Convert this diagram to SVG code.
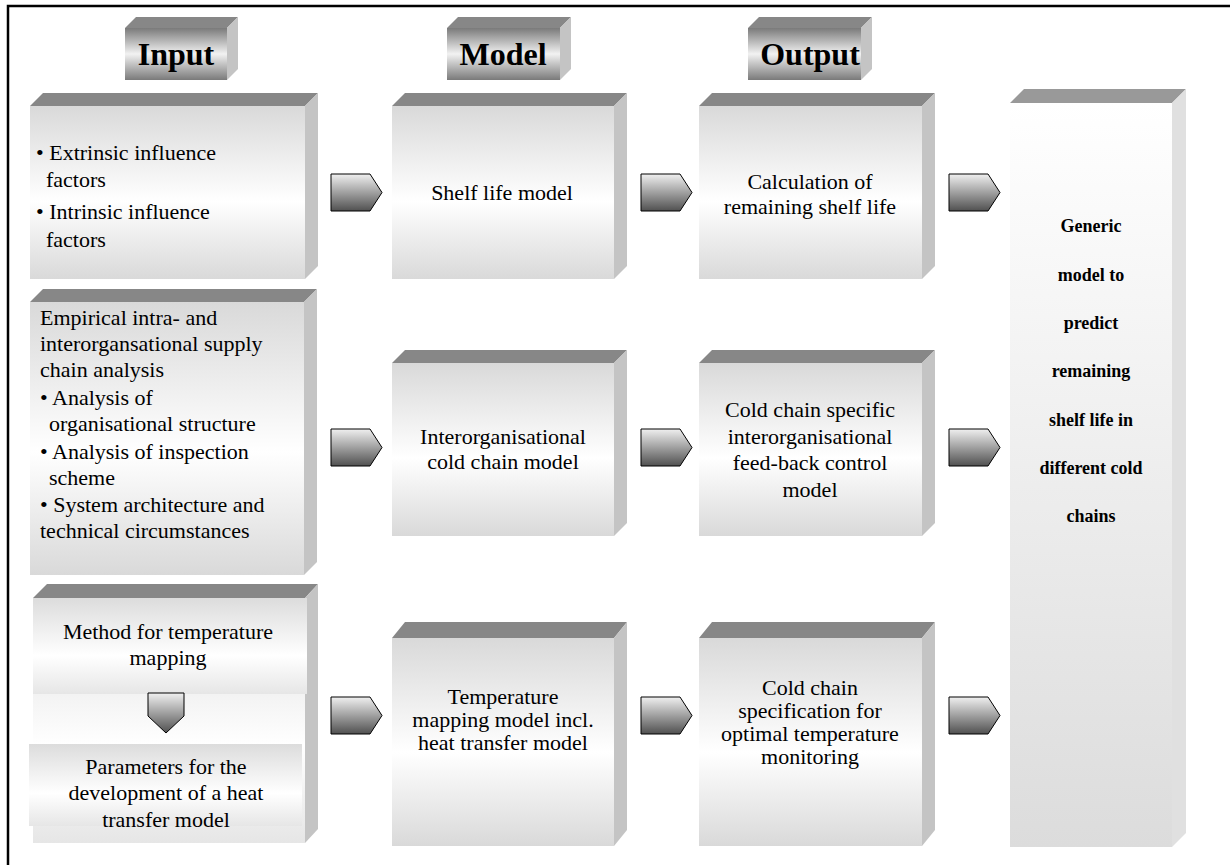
<svg xmlns="http://www.w3.org/2000/svg" width="1230" height="865" viewBox="0 0 1230 865">
<defs>
<linearGradient id="gBox" x1="0" y1="0" x2="0" y2="1">
<stop offset="0" stop-color="#d9d9d9"/><stop offset="0.55" stop-color="#ffffff"/><stop offset="1" stop-color="#d9d9d9"/>
</linearGradient>
<linearGradient id="gHdr" x1="0" y1="0" x2="0" y2="1">
<stop offset="0" stop-color="#7a7a7a"/><stop offset="0.5" stop-color="#f2f2f2"/><stop offset="1" stop-color="#7a7a7a"/>
</linearGradient>
<linearGradient id="gArr" x1="0" y1="0" x2="0" y2="1">
<stop offset="0" stop-color="#f0f0f0"/><stop offset="1" stop-color="#505050"/>
</linearGradient>
<linearGradient id="gBig" x1="0" y1="0" x2="0" y2="1">
<stop offset="0" stop-color="#ffffff"/><stop offset="1" stop-color="#dcdcdc"/>
</linearGradient>
<linearGradient id="gSub" x1="0" y1="0" x2="0" y2="1">
<stop offset="0" stop-color="#dcdcdc"/><stop offset="0.6" stop-color="#ffffff"/><stop offset="1" stop-color="#e6e6e6"/>
</linearGradient>
</defs>
<style>
.front{fill:url(#gBox)}
.top{fill:#878787}
.side{fill:#c4c4c4}
.hfront{fill:url(#gHdr)}
.arr{fill:url(#gArr);stroke:#000;stroke-width:1}
.t{font-family:"Liberation Serif","Times New Roman",serif;font-size:22px;fill:#000}
.c{text-anchor:middle}
.h{font-family:"Liberation Serif","Times New Roman",serif;font-size:32px;font-weight:bold;text-anchor:middle;fill:#000}
.b{font-family:"Liberation Serif","Times New Roman",serif;font-size:18px;font-weight:bold;text-anchor:middle;fill:#000}
</style>
<rect width="1230" height="865" fill="#fff"/>
<path d="M8,865 L8,6 L1230,6" fill="none" stroke="#000" stroke-width="2.5"/>

<g id="hdr-input">
<path class="top" d="M125,28 L136,17 L238,17 L227,28Z"/>
<path class="side" d="M227,28 L238,17 L238,69 L227,80Z"/>
<rect class="hfront" x="125" y="28" width="102" height="52"/>
<text class="h" x="176" y="65">Input</text>
</g>
<g id="hdr-model">
<path class="top" d="M447,28 L458,17 L571,17 L560,28Z"/>
<path class="side" d="M560,28 L571,17 L571,69 L560,80Z"/>
<rect class="hfront" x="447" y="28" width="113" height="52"/>
<text class="h" x="503" y="65">Model</text>
</g>
<g id="hdr-output">
<path class="top" d="M748,28 L759,17 L872,17 L861,28Z"/>
<path class="side" d="M861,28 L872,17 L872,69 L861,80Z"/>
<rect class="hfront" x="748" y="28" width="113" height="52"/>
<text class="h" x="810" y="65">Output</text>
</g>

<g id="in1">
<path class="top" d="M30,106 L43,93 L318,93 L305,106Z"/>
<path class="side" d="M305,106 L318,93 L318,266 L305,279Z"/>
<rect class="front" x="30" y="106" width="275" height="173"/>
<text class="t" x="36" y="160">• Extrinsic influence</text>
<text class="t" x="46" y="187">factors</text>
<text class="t" x="36" y="219">• Intrinsic influence</text>
<text class="t" x="46" y="247">factors</text>
</g>
<g id="m1">
<path class="top" d="M392,106 L405,93 L627,93 L614,106Z"/>
<path class="side" d="M614,106 L627,93 L627,266 L614,279Z"/>
<rect class="front" x="392" y="106" width="222" height="173"/>
<text class="t c" x="502" y="200">Shelf life model</text>
</g>
<g id="o1">
<path class="top" d="M699,106 L712,93 L935,93 L922,106Z"/>
<path class="side" d="M922,106 L935,93 L935,266 L922,279Z"/>
<rect class="front" x="699" y="106" width="223" height="173"/>
<text class="t c" x="810" y="189">Calculation of</text>
<text class="t c" x="810" y="214">remaining shelf life</text>
</g>

<g id="in2">
<path class="top" d="M30,302 L43,289 L317,289 L304,302Z"/>
<path class="side" d="M304,302 L317,289 L317,562 L304,575Z"/>
<rect class="front" x="30" y="302" width="274" height="273"/>
<text class="t" x="40" y="325">Empirical intra- and</text>
<text class="t" x="40" y="351">interorgansational supply</text>
<text class="t" x="40" y="377">chain analysis</text>
<text class="t" x="40" y="405">• Analysis of</text>
<text class="t" x="49" y="431">organisational structure</text>
<text class="t" x="40" y="459">• Analysis of inspection</text>
<text class="t" x="49" y="485">scheme</text>
<text class="t" x="40" y="512">• System architecture and</text>
<text class="t" x="40" y="538">technical circumstances</text>
</g>
<g id="m2">
<path class="top" d="M392,363 L405,350 L627,350 L614,363Z"/>
<path class="side" d="M614,363 L627,350 L627,523 L614,536Z"/>
<rect class="front" x="392" y="363" width="222" height="173"/>
<text class="t c" x="503" y="444">Interorganisational</text>
<text class="t c" x="503" y="469">cold chain model</text>
</g>
<g id="o2">
<path class="top" d="M699,363 L712,350 L935,350 L922,363Z"/>
<path class="side" d="M922,363 L935,350 L935,523 L922,536Z"/>
<rect class="front" x="699" y="363" width="223" height="173"/>
<text class="t c" x="810" y="417">Cold chain specific</text>
<text class="t c" x="810" y="444">interorganisational</text>
<text class="t c" x="810" y="470">feed-back control</text>
<text class="t c" x="810" y="497">model</text>
</g>

<g id="in3">
<path class="top" d="M33,598 L47,584 L318,584 L305,598Z" fill="#999"/>
<path class="side" d="M305,598 L318,584 L318,829 L305,843Z"/>
<rect x="33" y="598" width="272" height="245" fill="url(#gSub)"/>
<rect x="33" y="598" width="274" height="96" fill="url(#gSub)"/>
<rect x="29" y="744" width="273" height="82" fill="url(#gSub)"/>
<path class="arr" d="M148,693 L184,693 L184,716 L166,733 L148,716Z"/>
<text class="t c" x="168" y="639">Method for temperature</text>
<text class="t c" x="168" y="665">mapping</text>
<text class="t c" x="166" y="774">Parameters for the</text>
<text class="t c" x="166" y="800">development of a heat</text>
<text class="t c" x="166" y="827">transfer model</text>
</g>
<g id="m3">
<path class="top" d="M392,638 L405,622 L627,622 L614,638Z"/>
<path class="side" d="M614,638 L627,622 L627,830 L614,846Z"/>
<rect class="front" x="392" y="638" width="222" height="208"/>
<text class="t c" x="503" y="704">Temperature</text>
<text class="t c" x="503" y="727">mapping model incl.</text>
<text class="t c" x="503" y="750">heat transfer model</text>
</g>
<g id="o3">
<path class="top" d="M699,638 L712,622 L935,622 L922,638Z"/>
<path class="side" d="M922,638 L935,622 L935,830 L922,846Z"/>
<rect class="front" x="699" y="638" width="223" height="208"/>
<text class="t c" x="810" y="695">Cold chain</text>
<text class="t c" x="810" y="718">specification for</text>
<text class="t c" x="810" y="741">optimal temperature</text>
<text class="t c" x="810" y="764">monitoring</text>
</g>

<g id="big">
<path d="M1010,103 L1024,89 L1186,89 L1172,103Z" fill="#999"/>
<path d="M1172,103 L1186,89 L1186,833 L1172,847Z" fill="#e0e0e0"/>
<rect x="1010" y="103" width="162" height="744" fill="url(#gBig)"/>
<text class="b" x="1091" y="232">Generic</text>
<text class="b" x="1091" y="281">model to</text>
<text class="b" x="1091" y="329">predict</text>
<text class="b" x="1091" y="377">remaining</text>
<text class="b" x="1091" y="426">shelf life in</text>
<text class="b" x="1091" y="474">different cold</text>
<text class="b" x="1091" y="522">chains</text>
</g>

<g id="connectors">
<path class="arr" d="M331,174 L370,174 L382,192.5 L370,211 L331,211Z"/>
<path class="arr" d="M641,174 L680,174 L692,192.5 L680,211 L641,211Z"/>
<path class="arr" d="M949,174 L988,174 L1000,192.5 L988,211 L949,211Z"/>
<path class="arr" d="M331,429 L370,429 L382,447.5 L370,466 L331,466Z"/>
<path class="arr" d="M641,429 L680,429 L692,447.5 L680,466 L641,466Z"/>
<path class="arr" d="M949,429 L988,429 L1000,447.5 L988,466 L949,466Z"/>
<path class="arr" d="M331,697 L370,697 L382,715.5 L370,734 L331,734Z"/>
<path class="arr" d="M641,697 L680,697 L692,715.5 L680,734 L641,734Z"/>
<path class="arr" d="M949,697 L988,697 L1000,715.5 L988,734 L949,734Z"/>
</g>
</svg>
